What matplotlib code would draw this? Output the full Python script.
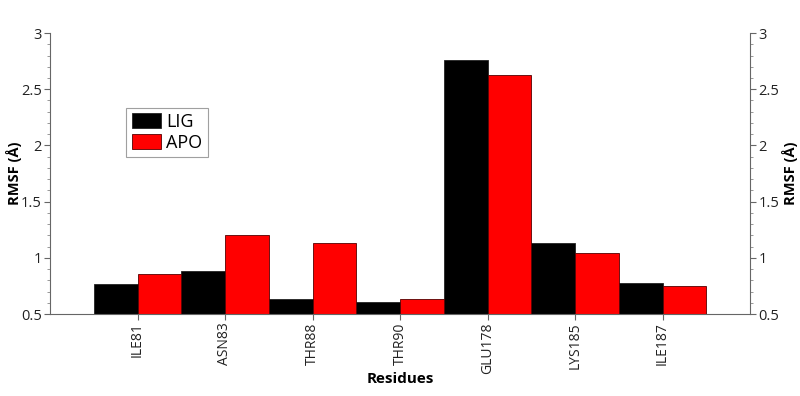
import matplotlib.pyplot as plt
import numpy as np
from matplotlib.ticker import MultipleLocator

plt.rcParams['font.family'] = ['Open Sans', 'DejaVu Sans']

residues = ["ILE81", "ASN83", "THR88", "THR90", "GLU178", "LYS185", "ILE187"]
lig = [0.77, 0.88, 0.63, 0.61, 2.76, 1.13, 0.78]
apo = [0.86, 1.20, 1.13, 0.63, 2.63, 1.04, 0.75]

x = np.arange(len(residues))
w = 0.5

fig = plt.figure(figsize=(8, 3.96), dpi=100)
ax = fig.add_axes([0.0625, 0.207, 0.875, 0.7095])

ax.bar(x - w/2, lig, w, bottom=0, color="black", edgecolor="#222222", linewidth=0.6, label="LIG")
ax.bar(x + w/2, apo, w, bottom=0, color="#ff0000", edgecolor="#550000", linewidth=0.6, label="APO")

ax.set_xlim(-1, 7)
ax.set_ylim(0.5, 3)
ax.set_xticks(x)
ax.set_xticklabels(residues, rotation=90, fontsize=10, color="#222222")
ax.yaxis.set_major_locator(MultipleLocator(0.5))
ax.yaxis.set_minor_locator(MultipleLocator(0.1))
ax.set_yticks([0.5, 1, 1.5, 2, 2.5, 3])
ax.set_yticklabels(["0.5", "1", "1.5", "2", "2.5", "3"], fontsize=10.5, color="#222222")

for s in ["top", "right"]:
    ax.spines[s].set_visible(False)
for s in ["left", "bottom"]:
    ax.spines[s].set_color("#666666")
ax.tick_params(axis="both", which="major", length=4, color="#666666", pad=2)
ax.tick_params(axis="y", which="minor", length=2, color="#888888")

ax.set_ylabel("RMSF (Å)", fontsize=10.5, fontweight="bold")
ax.yaxis.set_label_coords(-0.04, 0.5)
ax.set_xlabel("Residues", fontsize=11, fontweight="bold")
ax.xaxis.set_label_coords(0.5, -0.205)

ax2 = ax.twinx()
ax2.set_ylim(0.5, 3)
ax2.yaxis.set_major_locator(MultipleLocator(0.5))
ax2.yaxis.set_minor_locator(MultipleLocator(0.1))
ax2.set_yticks([0.5, 1, 1.5, 2, 2.5, 3])
ax2.set_yticklabels(["0.5", "1", "1.5", "2", "2.5", "3"], fontsize=10.5, color="#222222")
for s in ["top", "left", "bottom"]:
    ax2.spines[s].set_visible(False)
ax2.spines["right"].set_color("#666666")
ax2.tick_params(axis="y", which="major", length=4, color="#666666", pad=2)
ax2.tick_params(axis="y", which="minor", length=2, color="#888888")
ax2.set_ylabel("RMSF (Å)", fontsize=10.5, fontweight="bold", rotation=90)
ax2.yaxis.set_label_coords(1.045, 0.5)

leg = ax.legend(loc="upper left", bbox_to_anchor=(0.109, 0.735), fontsize=13,
                frameon=True, fancybox=False, edgecolor="#888888",
                handlelength=1.6, handleheight=0.9, handletextpad=0.3,
                borderpad=0.3, labelspacing=0.15, borderaxespad=0)
leg.get_frame().set_linewidth(0.8)

fig.savefig("out.png", dpi=100)
